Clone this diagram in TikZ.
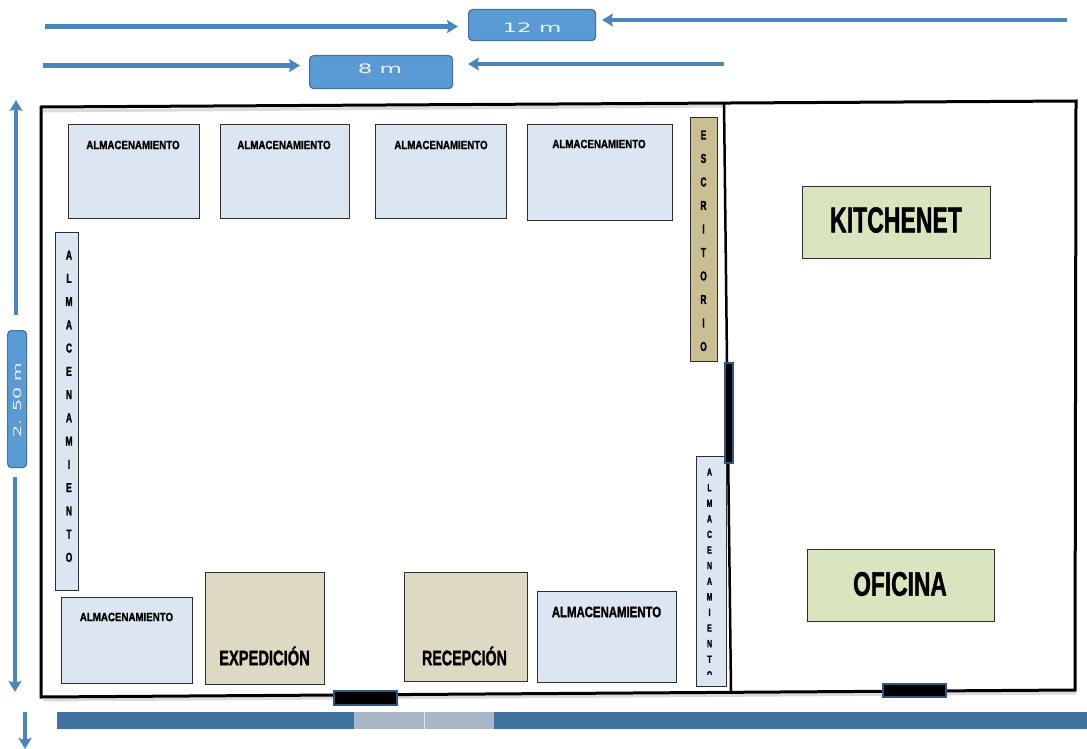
\documentclass[tikz,border=0pt]{standalone}
\usepackage{fontspec}
\usepackage{graphicx}
\setmainfont{Liberation Sans}
\newfontfamily\lbfont[FakeBold=1.6]{Liberation Sans Bold}
\newfontfamily\stfont[FakeBold=1.6,FakeStretch=0.65]{Liberation Sans Bold}
\newfontfamily\dimfont{DejaVu Sans}
\usetikzlibrary{arrows.meta}
\definecolor{almfill}{HTML}{DCE6F2}
\definecolor{edgegray}{HTML}{2E2E2E}
\definecolor{tanfill}{HTML}{DDD9C3}
\definecolor{deskfill}{HTML}{C9BF93}
\definecolor{greenfill}{HTML}{D8E5BE}
\definecolor{dimblue}{HTML}{5B9BD5}
\definecolor{dimedge}{HTML}{41719C}
\definecolor{arrowblue}{HTML}{4A86BE}
\definecolor{bandblue}{HTML}{41719F}
\definecolor{bandgray}{HTML}{A9B8C8}
\definecolor{doorblue}{HTML}{2F5586}
\newcommand\lab[3]{\scalebox{#1}[1]{\fontsize{#2}{#2}\lbfont #3}}
\newcommand\dimtxt[3]{\scalebox{#1}[1]{\fontsize{#2}{#2}\dimfont #3}}
\tikzset{
  room/.style={line width=3pt,black,line join=miter},
  roomshadow/.style={line width=3pt,black!14},
  plainbox/.style={draw=edgegray,line width=1pt,inner sep=0pt,anchor=north west},
  almbox/.style={plainbox,fill=almfill},
  workbox/.style={plainbox,fill=tanfill},
  deskbox/.style={plainbox,fill=deskfill},
  greenbox/.style={plainbox,fill=greenfill,draw=edgegray},
  dimbox/.style={draw=dimedge,fill=dimblue,line width=1.2pt,rounded corners=4pt,inner sep=0pt,anchor=north west},
  dimtext/.style={text=white!88!dimblue,inner sep=0pt},
  dimarrow/.style={line width=4.5pt,arrowblue,-{Stealth[length=11pt,width=13pt,inset=2pt]}},
  doorh/.style={draw=doorblue,fill=black,line width=1.8pt,inner sep=0pt,anchor=north west},
  caption/.style={inner sep=0pt,text=black},
  stack/.style={inner sep=0pt,align=center,text=black,anchor=north}
}
\begin{document}
\begin{tikzpicture}[x=1pt,y=-1pt]
\useasboundingbox (0,0) rectangle (1087,749);
% dimension boxes
\node[dimbox,minimum width=127pt,minimum height=31pt] (d12) at (468,9) {};
\node[dimtext] (t12) at (532,28) {\dimtxt{1.77}{13}{12 m}};
\node[dimbox,minimum width=143pt,minimum height=33pt] (d8) at (309,55) {};
\node[dimtext] (t8) at (380,69) {\dimtxt{1.77}{13}{8 m}};
\node[dimbox,minimum width=19pt,minimum height=137pt] (d250) at (7,330) {};
\node[dimtext,rotate=90] (t250) at (17,400) {\dimtxt{1.73}{11}{2. 50 m}};
% dimension arrows
\coordinate (a1s) at (45,26.5); \coordinate (a1e) at (458,26.5);
\coordinate (a2s) at (1067,20); \coordinate (a2e) at (602,20);
\coordinate (a3s) at (43,65.5); \coordinate (a3e) at (300,65.5);
\coordinate (a4s) at (724,64); \coordinate (a4e) at (468,64);
\coordinate (a5s) at (16,315); \coordinate (a5e) at (16,100);
\coordinate (a6s) at (15,477); \coordinate (a6e) at (15,692);
\coordinate (a7s) at (25,712); \coordinate (a7e) at (25,749);
\draw[dimarrow] (a1s) -- (a1e);
\draw[dimarrow] (a2s) -- (a2e);
\draw[dimarrow] (a3s) -- (a3e);
\draw[dimarrow] (a4s) -- (a4e);
\draw[dimarrow] (a5s) -- (a5e);
\draw[dimarrow] (a6s) -- (a6e);
\draw[dimarrow] (a7s) -- (a7e);
% room
\draw[roomshadow] (43,111) -- (724,106);
\draw[roomshadow] (43,700) -- (1076,693);
\draw[room] (41,107) -- (1076,101) -- (1075,690) -- (41,697) -- cycle;
\draw[line width=2.5pt,black] (724,102) -- (727,362) -- (731,691);
% storage boxes
\node[almbox,minimum width=131pt,minimum height=94pt] (s1) at (68,124) {};
\node[almbox,minimum width=129pt,minimum height=94pt] (s2) at (220,124) {};
\node[almbox,minimum width=131pt,minimum height=94pt] (s3) at (375,124) {};
\node[almbox,minimum width=145pt,minimum height=96pt] (s4) at (527,124) {};
\node[almbox,minimum width=131pt,minimum height=86pt] (s5) at (61,597) {};
\node[almbox,minimum width=139pt,minimum height=91pt] (s6) at (537,591) {};
\node[caption] (c1) at (133,145) {\lab{.81}{12}{ALMACENAMIENTO}};
\node[caption] (c2) at (284,145) {\lab{.81}{12}{ALMACENAMIENTO}};
\node[caption] (c3) at (441,145) {\lab{.81}{12}{ALMACENAMIENTO}};
\node[caption] (c4) at (599,144) {\lab{.81}{12}{ALMACENAMIENTO}};
\node[caption] (c5) at (126.5,617) {\lab{.81}{12}{ALMACENAMIENTO}};
\node[caption] (c6) at (606.5,612) {\lab{.76}{15}{ALMACENAMIENTO}};
% work areas
\node[workbox,minimum width=119pt,minimum height=112pt] (w1) at (205,572) {};
\node[workbox,minimum width=123pt,minimum height=109pt] (w2) at (404,572) {};
\node[caption] (c7) at (264.5,656) {\lab{.7}{21}{EXPEDICIÓN}};
\node[caption] (c8) at (464.5,656) {\lab{.68}{21}{RECEPCIÓN}};
\node[greenbox,minimum width=188pt,minimum height=72pt] (g1) at (802,186) {};
\node[greenbox,minimum width=187pt,minimum height=72pt] (g2) at (807,549) {};
\node[caption] (c9) at (896,220) {\lab{.64}{36}{KITCHENET}};
\node[caption] (c10) at (900,584) {\lab{.67}{34}{OFICINA}};
% vertical boxes
\node[almbox,minimum width=23pt,minimum height=358pt] (v1) at (55,232) {};
\node[stack,font={\fontsize{13}{23.25}\stfont}] (vt1) at (69,250.4) {A\\L\\M\\A\\C\\E\\N\\A\\M\\I\\E\\N\\T\\O};
\node[deskbox,minimum width=27pt,minimum height=244pt] (v2) at (690,117) {};
\begin{scope}
\clip (690,117) rectangle (717,353);
\node[stack,font={\fontsize{13}{23.5}\stfont}] (vt2) at (703.5,130.3) {E\\S\\C\\R\\I\\T\\O\\R\\I\\O};
\end{scope}
\node[almbox,minimum width=30pt,minimum height=230pt] (v3) at (696,456) {};
\begin{scope}
\clip (697,457) rectangle (725,674);
\node[stack,font={\fontsize{10.5}{15.6}\stfont}] (vt3) at (709.5,468.2) {A\\L\\M\\A\\C\\E\\N\\A\\M\\I\\E\\N\\T\\O};
\end{scope}
% doors
\node[doorh,minimum width=8pt,minimum height=100pt] (door1) at (724,362) {};
\node[doorh,minimum width=63pt,minimum height=14pt] (door2) at (333,690) {};
\node[doorh,minimum width=63pt,minimum height=13pt] (door3) at (882,683) {};
% bottom band
\fill[bandblue] (57,712) rectangle (1087,729);
\fill[bandgray] (354,712) rectangle (494,729);
\draw[white!60!bandgray,line width=.8pt] (424,712) -- (424,729);
\end{tikzpicture}
\end{document}
